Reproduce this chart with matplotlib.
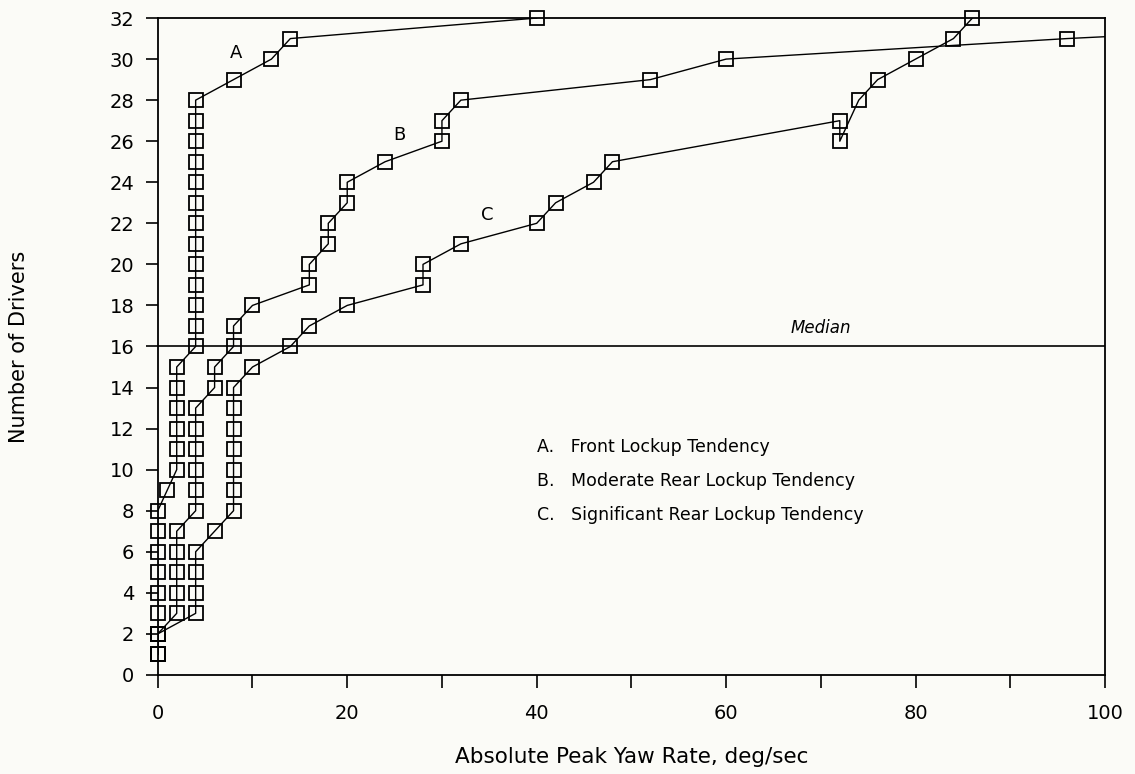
import numpy as np
import matplotlib
matplotlib.use('Agg')
import matplotlib.pyplot as plt

# peak yaw rate (deg/sec) vs cumulative number of drivers
a_x = [0, 0, 0, 0, 0, 0, 0, 0, 1, 2, 2, 2, 2, 2, 2,
       4, 4, 4, 4, 4, 4, 4, 4, 4, 4, 4, 4, 4, 8, 12, 14, 40]
a_y = [1, 2, 3, 4, 5, 6, 7, 8, 9, 10, 11, 12, 13, 14, 15,
       16, 17, 18, 19, 20, 21, 22, 23, 24, 25, 26, 27, 28, 29, 30, 31, 32]

b_x = [0, 0, 2, 2, 2, 2, 2, 4, 4, 4, 4, 4, 4, 6, 6, 8, 8, 10,
       16, 16, 18, 18, 20, 20, 24, 30, 30, 32, 52, 60, 96, 140]
b_y = [1, 2, 3, 4, 5, 6, 7, 8, 9, 10, 11, 12, 13, 14, 15, 16, 17, 18,
       19, 20, 21, 22, 23, 24, 25, 26, 27, 28, 29, 30, 31, 32]

c_x = [0, 0, 4, 4, 4, 4, 6, 8, 8, 8, 8, 8, 8, 8, 10, 14, 16, 20,
       28, 28, 32, 40, 42, 46, 48, 72, 72, 74, 76, 80, 84, 86]
c_y = [1, 2, 3, 4, 5, 6, 7, 8, 9, 10, 11, 12, 13, 14, 15, 16, 17, 18,
       19, 20, 21, 22, 23, 24, 25, 27, 26, 28, 29, 30, 31, 32]

median = 16
legend_lines = ['A.   Front Lockup Tendency',
                'B.   Moderate Rear Lockup Tendency',
                'C.   Significant Rear Lockup Tendency']

plt.rcParams['font.family'] = ['DejaVu Sans']
bg = '#fbfbf7'
fig = plt.figure(figsize=(11.35, 7.74), dpi=100, facecolor=bg)
ax = fig.add_axes([0.139, 0.128, 0.8346, 0.8487], facecolor=bg)

for xs, ys in [(a_x, a_y), (b_x, b_y), (c_x, c_y)]:
    xs = np.array(xs)
    ys = np.array(ys)
    ax.plot(xs, ys, '-', color='black', lw=1.0)
    keep = xs <= 100
    ax.plot(xs[keep], ys[keep], 's', color='black', mfc='none', ms=9.5, mew=1.3,
            clip_on=False, zorder=3)

ax.axhline(median, color='black', lw=1.2)
ax.text(70, 16.45, 'Median', style='italic', fontsize=12, ha='center', va='bottom')

ax.text(8.3, 30.3, 'A', fontsize=13, ha='center', va='center')
ax.text(25.5, 26.3, 'B', fontsize=13, ha='center', va='center')
ax.text(34.8, 22.4, 'C', fontsize=13, ha='center', va='center')

for i, s in enumerate(legend_lines):
    ax.text(40, 11.1 - 1.65 * i, s, fontsize=12.5, ha='left', va='center')

ax.set_xlim(0, 100)
ax.set_ylim(0, 32)
ax.set_xticks(np.arange(0, 101, 10))
ax.set_xticklabels(['0', '', '20', '', '40', '', '60', '', '80', '', '100'])
ax.set_yticks(np.arange(0, 33, 2))
ax.tick_params(direction='out', length=9, width=1.2, labelsize=14, pad=8)
ax.tick_params(axis='x', pad=12)
for sp in ax.spines.values():
    sp.set_linewidth(1.3)

ax.set_xlabel('Absolute Peak Yaw Rate, deg/sec', fontsize=15.5, labelpad=17)
ax.set_ylabel('Number of Drivers', fontsize=15, labelpad=58)

plt.savefig('out.png', dpi=100, facecolor=bg)
